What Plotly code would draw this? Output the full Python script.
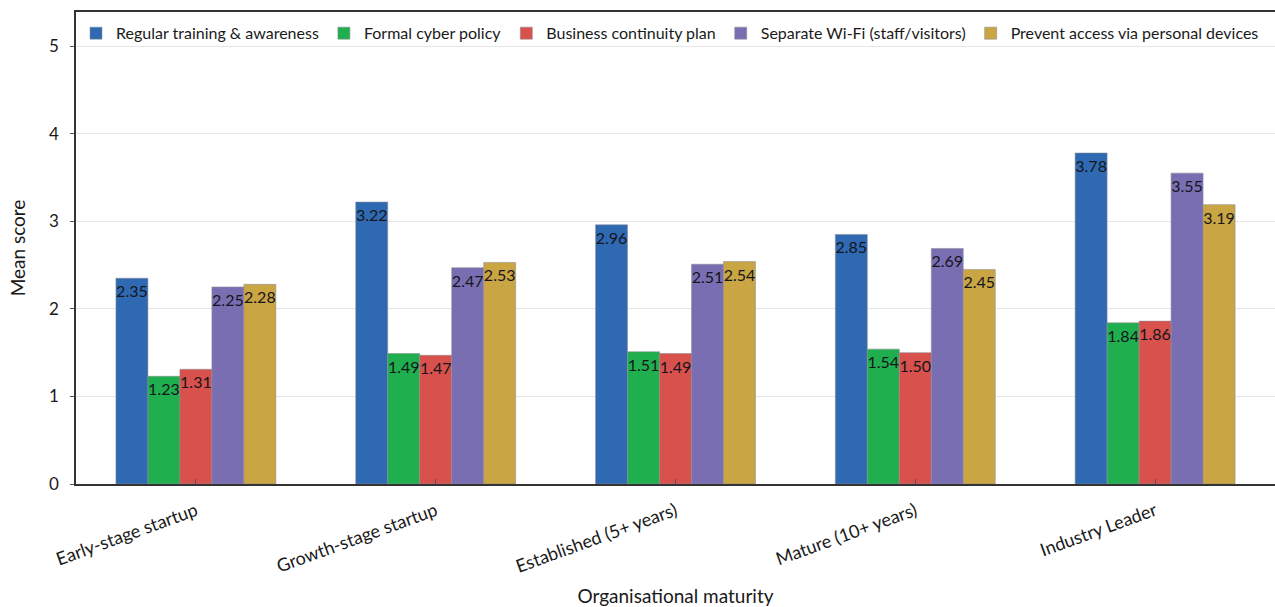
import plotly.graph_objects as go

# Organisational maturity stages (x categories)
stages = [
    "Early-stage startup",
    "Growth-stage startup",
    "Established (5+ years)",
    "Mature (10+ years)",
    "Industry Leader",
]

# Mean scores per practice
training = [2.35, 3.22, 2.96, 2.85, 3.78]
policy = [1.23, 1.49, 1.51, 1.54, 1.84]
continuity = [1.31, 1.47, 1.49, 1.50, 1.86]
wifi = [2.25, 2.47, 2.51, 2.69, 3.55]
devices = [2.28, 2.53, 2.54, 2.45, 3.19]

series_names = [
    "Regular training & awareness",
    "Formal cyber policy",
    "Business continuity plan",
    "Separate Wi-Fi (staff/visitors)",
    "Prevent access via personal devices",
]
series_values = [training, policy, continuity, wifi, devices]
colors = ["#2E69B2", "#20AF4E", "#D8514D", "#7A6EB3", "#C9A544"]

FONT = "Lato, 'Open Sans', sans-serif"

fig = go.Figure()
for name, vals, col in zip(series_names, series_values, colors):
    fig.add_trace(
        go.Bar(
            x=stages,
            y=vals,
            name=name,
            marker=dict(color=col, line=dict(color="rgba(140,140,150,0.55)", width=1)),
            text=[f"{v:.2f}" for v in vals],
            textposition="inside",
            insidetextanchor="end",
            textangle=0,
            constraintext="none",
            cliponaxis=False,
            textfont=dict(family=FONT, size=16, color="#15151c"),
        )
    )

fig.update_layout(
    width=1275,
    height=607,
    margin=dict(l=76, r=0, t=12, b=123),
    paper_bgcolor="white",
    plot_bgcolor="white",
    barmode="group",
    bargap=0.333,
    bargroupgap=0,
    font=dict(family=FONT, size=16, color="#1a1a1a"),
    legend=dict(
        orientation="h",
        x=0.0,
        y=0.955,
        xanchor="left",
        yanchor="middle",
        bgcolor="rgba(0,0,0,0)",
        font=dict(family=FONT, size=16, color="#1a1a1a"),
        itemwidth=30,
    ),
    showlegend=True,
)

fig.update_xaxes(
    title=dict(text="Organisational maturity", font=dict(family=FONT, size=19), standoff=18),
    automargin=False,
    tickangle=-20,
    tickfont=dict(family=FONT, size=18),
    ticklabelstandoff=8,
    showline=True,
    linecolor="#333333",
    linewidth=1.5,
    mirror=True,
    ticks="inside",
    ticklen=5,
    tickcolor="#555555",
    showgrid=False,
)

fig.update_yaxes(
    title=dict(text="Mean score", font=dict(family=FONT, size=19), standoff=18),
    automargin=False,
    range=[0, 5.39],
    tickvals=[0, 1, 2, 3, 4, 5],
    tickfont=dict(family=FONT, size=17),
    ticklabelstandoff=8,
    showline=True,
    linecolor="#333333",
    linewidth=1.5,
    ticks="outside",
    ticklen=4,
    tickcolor="#555555",
    showgrid=True,
    gridcolor="#E6E6E6",
    gridwidth=1,
    zeroline=False,
)

fig.write_html("out.html")
